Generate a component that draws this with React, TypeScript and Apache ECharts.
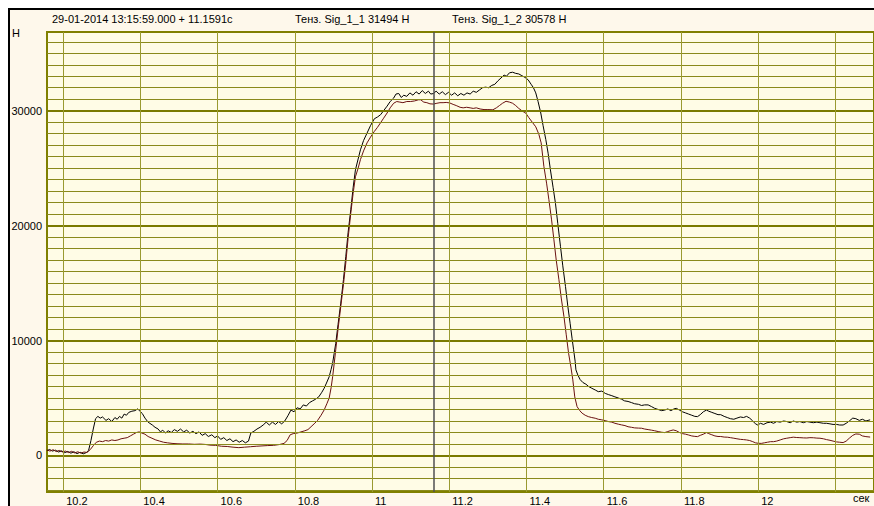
import React, { useEffect, useRef } from "react";
import * as echarts from "echarts";

// ---- data (time in s, force in N) ----
const sig1: [number, number][] = [
  [10.158, 420],[10.165, 520],[10.172, 380],[10.180, 460],[10.188, 300],[10.196, 400],[10.204, 240],[10.212, 350],[10.220, 200],[10.228, 320],[10.236, 160],[10.244, 280],[10.252, 140],[10.260, 250],[10.266, 450],[10.272, 1300],[10.278, 2300],[10.284, 3200],[10.290, 3400],[10.296, 3250],[10.302, 3350],[10.311, 3050],[10.318, 3200],[10.326, 2950],[10.334, 3300],[10.340, 3150],[10.346, 3400],[10.352, 3250],[10.358, 3600],[10.364, 3500],[10.370, 3750],[10.378, 3850],[10.386, 3900],[10.393, 4050],[10.399, 3850],[10.405, 3650],[10.412, 3250],[10.420, 2900],[10.431, 2650],[10.438, 2450],[10.446, 2300],[10.452, 2050],[10.458, 2200],[10.465, 1950],[10.472, 2150],[10.480, 2000],[10.488, 2250],[10.496, 2100],[10.504, 2300],[10.512, 2050],[10.520, 2200],[10.528, 1950],[10.536, 2100],[10.544, 1900],[10.552, 2050],[10.560, 1750],[10.568, 1900],[10.576, 1650],[10.585, 1800],[10.593, 1550],[10.600, 1700],[10.608, 1400],[10.616, 1550],[10.624, 1300],[10.632, 1450],[10.640, 1200],[10.648, 1350],[10.656, 1150],[10.664, 1300],[10.672, 1100],[10.680, 1250],[10.686, 1950],[10.694, 2100],[10.702, 2300],[10.710, 2450],[10.718, 2650],[10.726, 2900],[10.734, 2650],[10.742, 2900],[10.750, 2700],[10.758, 2950],[10.766, 2750],[10.774, 3000],[10.782, 3450],[10.790, 3950],[10.798, 3800],[10.806, 4150],[10.814, 4050],[10.822, 4400],[10.830, 4300],[10.838, 4600],[10.846, 4750],[10.854, 4900],[10.862, 5100],[10.870, 5500],[10.876, 5850],[10.882, 6300],[10.889, 6850],[10.894, 7500],[10.898, 8050],[10.902, 8900],[10.906, 9750],[10.912, 11400],[10.919, 13250],[10.926, 15300],[10.932, 17300],[10.938, 19400],[10.945, 21400],[10.951, 23300],[10.957, 24850],[10.964, 25800],[10.970, 26600],[10.978, 27400],[10.987, 28050],[10.996, 28700],[11.006, 29300],[11.014, 29450],[11.022, 29650],[11.030, 30000],[11.039, 30400],[11.047, 30800],[11.056, 31100],[11.062, 31450],[11.069, 31500],[11.076, 31150],[11.082, 31350],[11.090, 31250],[11.098, 31550],[11.106, 31350],[11.114, 31650],[11.122, 31450],[11.130, 31750],[11.138, 31500],[11.146, 31700],[11.152, 31450],[11.159, 31494],[11.166, 31700],[11.174, 31450],[11.182, 31650],[11.190, 31400],[11.198, 31600],[11.206, 31350],[11.214, 31550],[11.222, 31300],[11.230, 31500],[11.238, 31350],[11.246, 31550],[11.254, 31450],[11.262, 31700],[11.270, 31600],[11.278, 31800],[11.286, 32000],[11.294, 32050],[11.302, 32000],[11.310, 32200],[11.318, 32300],[11.326, 32600],[11.334, 32850],[11.342, 33100],[11.348, 33000],[11.356, 33300],[11.364, 33350],[11.372, 33250],[11.380, 33200],[11.388, 33050],[11.396, 32900],[11.404, 32700],[11.412, 32300],[11.418, 32000],[11.424, 31550],[11.430, 30800],[11.437, 29800],[11.443, 28700],[11.450, 27500],[11.456, 26300],[11.462, 24850],[11.469, 23300],[11.475, 21950],[11.481, 20200],[11.488, 18200],[11.494, 16500],[11.501, 14700],[11.507, 13000],[11.513, 11500],[11.518, 10200],[11.522, 9200],[11.526, 8200],[11.528, 7450],[11.533, 7000],[11.539, 6600],[11.546, 6350],[11.554, 6200],[11.561, 6000],[11.569, 5850],[11.578, 5700],[11.586, 5550],[11.595, 5600],[11.604, 5400],[11.612, 5300],[11.621, 5200],[11.629, 5100],[11.638, 5000],[11.646, 4900],[11.654, 4750],[11.663, 4700],[11.672, 4600],[11.680, 4500],[11.690, 4450],[11.698, 4350],[11.706, 4400],[11.715, 4400],[11.724, 4250],[11.732, 4100],[11.741, 4000],[11.750, 3900],[11.758, 3950],[11.766, 4050],[11.774, 3900],[11.782, 4050],[11.788, 4100],[11.796, 3950],[11.804, 3800],[11.812, 3700],[11.820, 3600],[11.828, 3500],[11.836, 3400],[11.843, 3380],[11.850, 3550],[11.858, 3800],[11.866, 3950],[11.872, 3850],[11.880, 3750],[11.888, 3650],[11.896, 3550],[11.903, 3550],[11.912, 3400],[11.920, 3300],[11.928, 3200],[11.937, 3150],[11.945, 3250],[11.954, 3350],[11.962, 3300],[11.970, 3400],[11.978, 3250],[11.986, 3000],[11.993, 2750],[11.999, 2650],[12.006, 2800],[12.014, 2700],[12.023, 2850],[12.032, 2900],[12.040, 2800],[12.048, 2950],[12.057, 2900],[12.066, 3000],[12.074, 2950],[12.083, 2850],[12.091, 3000],[12.100, 2900],[12.108, 2950],[12.117, 2850],[12.126, 2950],[12.134, 2900],[12.143, 2850],[12.152, 2900],[12.160, 2850],[12.169, 2800],[12.177, 2800],[12.186, 2750],[12.194, 2700],[12.203, 2700],[12.211, 2650],[12.220, 2650],[12.228, 2800],[12.236, 3000],[12.245, 3250],[12.253, 3200],[12.262, 3050],[12.270, 3150],[12.279, 3000],[12.290, 3100]
];

const sig2: [number, number][] = [
  [10.158, 480],[10.166, 380],[10.174, 500],[10.182, 340],[10.190, 440],[10.198, 300],[10.206, 380],[10.214, 250],[10.222, 360],[10.230, 220],[10.238, 320],[10.246, 200],[10.254, 300],[10.262, 260],[10.270, 500],[10.278, 850],[10.286, 1150],[10.294, 1250],[10.302, 1200],[10.310, 1300],[10.318, 1250],[10.326, 1350],[10.334, 1300],[10.342, 1350],[10.350, 1450],[10.358, 1500],[10.366, 1550],[10.374, 1700],[10.382, 1850],[10.390, 2000],[10.397, 2050],[10.404, 1950],[10.412, 1850],[10.420, 1650],[10.430, 1500],[10.440, 1350],[10.450, 1250],[10.460, 1150],[10.470, 1100],[10.482, 1050],[10.495, 1020],[10.510, 1000],[10.525, 1000],[10.540, 970],[10.555, 990],[10.568, 960],[10.580, 900],[10.595, 880],[10.610, 800],[10.625, 780],[10.640, 720],[10.655, 680],[10.670, 720],[10.685, 760],[10.700, 800],[10.715, 830],[10.730, 860],[10.745, 880],[10.760, 950],[10.772, 1050],[10.780, 1300],[10.788, 1800],[10.796, 1900],[10.806, 1950],[10.816, 2050],[10.826, 2150],[10.834, 2250],[10.842, 2500],[10.850, 2750],[10.859, 3050],[10.868, 3500],[10.876, 3960],[10.883, 4500],[10.889, 5000],[10.894, 5900],[10.898, 6850],[10.902, 8000],[10.906, 9200],[10.912, 11000],[10.919, 12950],[10.926, 14900],[10.932, 16750],[10.938, 18900],[10.945, 21100],[10.951, 22800],[10.957, 24250],[10.964, 25000],[10.970, 25750],[10.978, 26500],[10.987, 27200],[10.996, 27700],[11.006, 28200],[11.014, 28550],[11.022, 28950],[11.030, 29350],[11.039, 29800],[11.047, 30250],[11.056, 30650],[11.064, 30800],[11.072, 30750],[11.080, 30700],[11.090, 30800],[11.100, 30800],[11.110, 30850],[11.120, 30950],[11.126, 30950],[11.134, 30750],[11.142, 30700],[11.150, 30600],[11.159, 30578],[11.168, 30650],[11.176, 30700],[11.184, 30700],[11.192, 30720],[11.201, 30680],[11.210, 30550],[11.218, 30450],[11.228, 30300],[11.236, 30250],[11.245, 30300],[11.254, 30250],[11.262, 30200],[11.270, 30250],[11.280, 30150],[11.290, 30100],[11.300, 30100],[11.313, 30080],[11.322, 30250],[11.330, 30450],[11.338, 30650],[11.347, 30820],[11.356, 30750],[11.364, 30650],[11.372, 30450],[11.380, 30200],[11.390, 29950],[11.398, 29800],[11.406, 29400],[11.415, 29000],[11.424, 28600],[11.432, 27950],[11.438, 27200],[11.445, 25160],[11.452, 23700],[11.458, 22260],[11.465, 20500],[11.471, 18770],[11.477, 17000],[11.484, 15290],[11.490, 13700],[11.497, 12090],[11.503, 10500],[11.509, 8900],[11.515, 7700],[11.520, 6580],[11.525, 5100],[11.531, 4250],[11.538, 3900],[11.544, 3680],[11.552, 3500],[11.560, 3380],[11.569, 3300],[11.578, 3240],[11.586, 3150],[11.595, 3100],[11.604, 3030],[11.612, 2950],[11.621, 2900],[11.629, 2800],[11.638, 2720],[11.646, 2660],[11.655, 2600],[11.663, 2500],[11.672, 2450],[11.680, 2400],[11.690, 2380],[11.698, 2370],[11.706, 2300],[11.715, 2250],[11.724, 2200],[11.732, 2150],[11.741, 2080],[11.750, 2020],[11.758, 1990],[11.766, 2080],[11.772, 2150],[11.780, 2220],[11.788, 2150],[11.796, 2000],[11.804, 1900],[11.812, 1850],[11.820, 1780],[11.828, 1700],[11.836, 1660],[11.843, 1640],[11.850, 1750],[11.858, 1850],[11.866, 1990],[11.872, 1900],[11.880, 1800],[11.888, 1700],[11.896, 1650],[11.903, 1650],[11.912, 1600],[11.920, 1590],[11.928, 1550],[11.937, 1500],[11.945, 1450],[11.954, 1400],[11.962, 1380],[11.970, 1350],[11.978, 1300],[11.986, 1200],[11.993, 1100],[12.000, 1060],[12.008, 1050],[12.016, 1100],[12.024, 1150],[12.032, 1200],[12.040, 1200],[12.048, 1250],[12.057, 1350],[12.066, 1450],[12.074, 1500],[12.083, 1550],[12.091, 1590],[12.100, 1560],[12.108, 1550],[12.117, 1530],[12.126, 1520],[12.134, 1550],[12.143, 1540],[12.152, 1510],[12.160, 1500],[12.169, 1450],[12.177, 1380],[12.186, 1320],[12.194, 1250],[12.203, 1180],[12.211, 1150],[12.220, 1120],[12.228, 1250],[12.236, 1500],[12.245, 1750],[12.253, 1870],[12.262, 1850],[12.270, 1700],[12.279, 1640],[12.290, 1600]
];

const yMinorTicks = [-3000, -2000, -1000, 1000, 2000, 3000, 4000, 5000, 6000, 7000, 8000, 9000, 11000, 12000, 13000, 14000, 15000, 16000, 17000, 18000, 19000, 21000, 22000, 23000, 24000, 25000, 26000, 27000, 28000, 29000, 31000, 32000, 33000, 34000, 35000, 36000];
const yMajorTicks = [0, 10000, 20000, 30000];
const xGridTicks = [10.2, 10.4, 10.6, 10.8, 11, 11.2, 11.4, 11.6, 11.8, 12, 12.2];
const xLabelTicks = [10.2, 10.4, 10.6, 10.8, 11, 11.2, 11.4, 11.6, 11.8, 12];
const cursorTime = 11.1591;
const headerText = "29-01-2014 13:15:59.000 + 11.1591c";
const sigLabels = ["Тенз. Sig_1_1 31494 Н", "Тенз. Sig_1_2 30578 Н"];
const yUnit = "Н";
const xUnit = "сек";

const FONT = "'Liberation Sans', Arial, sans-serif";
const OLIVE = "#808000";

export default function App() {
  const ref = useRef<HTMLDivElement>(null);
  useEffect(() => {
    if (!ref.current) return;
    document.body.style.overflow = "hidden";
    const chart = echarts.init(ref.current, null, { renderer: "svg" });
    const gridLines: any[] = [
      ...yMinorTicks.map((v) => ({ yAxis: v, lineStyle: { color: "#8a8a1c", width: 1, type: "solid" } })),
      ...yMajorTicks.map((v) => ({ yAxis: v, lineStyle: { color: "#7a7a00", width: 2, type: "solid" } })),
      ...xGridTicks.map((v) => ({ xAxis: v, lineStyle: { color: "#9a9a30", width: 1, type: "solid" } })),
      { xAxis: cursorTime, lineStyle: { color: "#505050", width: 1.5, type: "solid" } },
    ];
    const option: any = {
      animation: false,
      backgroundColor: "#FEF8EB",
      grid: {
        left: 39, right: -7.3, top: 24, bottom: 14,
        show: true, backgroundColor: "#FFFCE6", borderColor: OLIVE, borderWidth: 2,
      },
      xAxis: {
        type: "value", min: 10.1582, max: 12.3,
        axisLine: { show: false }, axisTick: { show: false }, splitLine: { show: false },
        axisLabel: {
          customValues: xLabelTicks,
          formatter: (v: number) => String(Math.round(v * 10) / 10),
          align: "left", padding: [0, 0, 0, 3], margin: 3,
          color: "#000", fontSize: 11, fontFamily: FONT,
        },
      },
      yAxis: {
        type: "value", min: -3180, max: 36850,
        axisLine: { show: false }, axisTick: { show: false }, splitLine: { show: false },
        axisLabel: {
          customValues: yMajorTicks,
          formatter: (v: number) => String(Math.round(v)),
          margin: 5, color: "#000", fontSize: 11, fontFamily: FONT,
        },
      },
      series: [
        {
          type: "line", data: [[10.5, 0]], z: 1, silent: true, showSymbol: false,
          lineStyle: { opacity: 0 },
          markLine: { silent: true, symbol: ["none", "none"], label: { show: false }, animation: false, data: gridLines },
        },
        {
          name: "Sig_1_1", type: "line", data: sig1, z: 3, showSymbol: false, symbol: "none",
          lineStyle: { color: "#000000", width: 1 }, silent: true,
        },
        {
          name: "Sig_1_2", type: "line", data: sig2, z: 4, showSymbol: false, symbol: "none",
          lineStyle: { color: "#6a1010", width: 1 }, silent: true,
        },
      ],
      graphic: [
        { type: "line", shape: { x1: 0, y1: 1, x2: 866, y2: 1 }, style: { stroke: "#000", lineWidth: 2 }, silent: true },
        { type: "line", shape: { x1: 1, y1: 0, x2: 1, y2: 498 }, style: { stroke: "#000", lineWidth: 2 }, silent: true },
        { type: "text", x: 44, y: 11, style: { text: headerText, fill: "#000", font: `11px ${FONT}`, verticalAlign: "middle" } },
        { type: "text", x: 287, y: 11, style: { text: sigLabels[0], fill: "#000", font: `11px ${FONT}`, verticalAlign: "middle" } },
        { type: "text", x: 444, y: 11, style: { text: sigLabels[1], fill: "#000", font: `11px ${FONT}`, verticalAlign: "middle" } },
        { type: "text", x: 4, y: 25, style: { text: yUnit, fill: "#000", font: `11px ${FONT}`, verticalAlign: "middle" } },
        { type: "text", x: 845, y: 490, style: { text: xUnit, fill: "#000", font: `11px ${FONT}`, verticalAlign: "middle" } },
      ],
    };
    chart.setOption(option);
    return () => chart.dispose();
  }, []);
  return <div ref={ref} style={{ position: "absolute", left: 8, top: 8, width: 866, height: 498 }} />;
}
